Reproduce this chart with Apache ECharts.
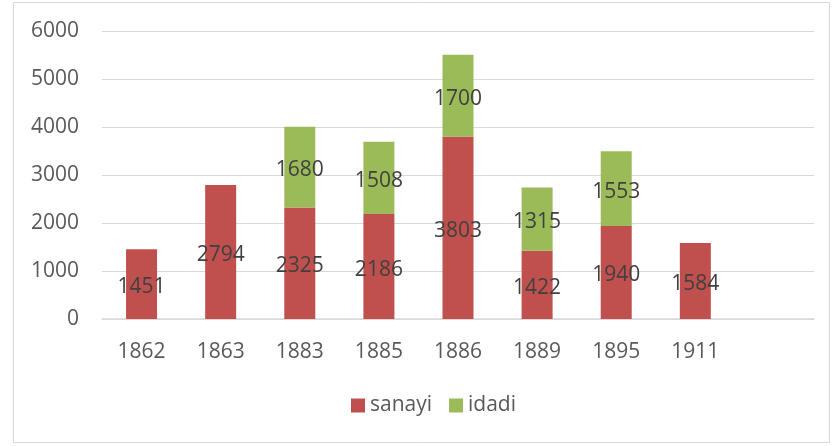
<!DOCTYPE html>
<html><head><meta charset="utf-8">
<script src="https://cdn.jsdelivr.net/npm/echarts@6/dist/echarts.min.js"></script>
<style>html,body{margin:0;padding:0;background:#fff}#c{width:837px;height:446px}</style>
</head><body><div id="c"></div>
<script>
const categories = ['1862','1863','1883','1885','1886','1889','1895','1911',''];
const sanayi = [1451, 2794, 2325, 2186, 3803, 1422, 1940, 1584, null];
const idadi = [null, null, 1680, 1508, 1700, 1315, 1553, null, null];
const yTicks = [0, 1000, 2000, 3000, 4000, 5000, 6000];

const FONT = '"Open Sans", sans-serif';
const chart = echarts.init(document.getElementById('c'), null, {renderer: 'canvas'});
const lbl = {show: true, position: 'inside', color: '#404040', fontSize: 21, fontFamily: FONT, offset: [0, 3],
  formatter: p => p.value == null ? '' : String(p.value)};
chart.setOption({
  animation: false,
  graphic: [{type: 'rect', shape: {x: 13.5, y: 2.5, width: 816, height: 440},
    style: {fill: 'none', stroke: '#d9d9d9', lineWidth: 1}}],
  grid: {left: 102, right: 23, top: 31, bottom: 127, containLabel: false},
  legend: {data: ['sanayi', 'idadi'], bottom: 25, left: 346, itemWidth: 14, itemHeight: 14,
    itemGap: 17, icon: 'rect', textStyle: {color: '#595959', fontSize: 21, fontFamily: FONT, padding: [0, 0, 0, 0]}},
  xAxis: {type: 'category', data: categories,
    axisLine: {lineStyle: {color: '#d9d9d9', width: 1.5}}, axisTick: {show: false},
    axisLabel: {color: '#595959', fontSize: 21, fontFamily: FONT, margin: 23}},
  yAxis: {type: 'value', min: yTicks[0], max: yTicks[yTicks.length - 1], interval: 1000,
    axisLine: {show: false}, axisTick: {show: false},
    splitLine: {lineStyle: {color: '#d9d9d9', width: 1.2}},
    axisLabel: {color: '#595959', fontSize: 21, fontFamily: FONT, margin: 23, formatter: v => String(v)}},
  series: [
    {name: 'sanayi', type: 'bar', stack: 's', data: sanayi, barWidth: 31,
      itemStyle: {color: '#C0504D'}, label: lbl},
    {name: 'idadi', type: 'bar', stack: 's', data: idadi, barWidth: 31,
      itemStyle: {color: '#9BBB59'}, label: lbl}
  ]
});
</script></body></html>
